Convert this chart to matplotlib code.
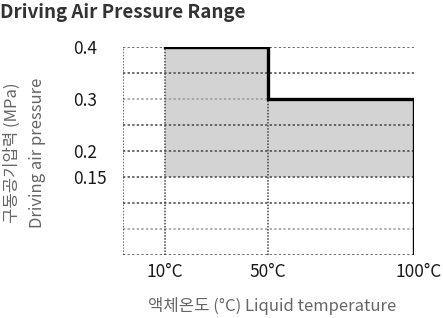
import numpy as np
import matplotlib.pyplot as plt
from matplotlib.transforms import ScaledTranslation

plt.rcParams['font.family'] = ['Noto Sans CJK KR', 'DejaVu Sans']

# temperature breakpoints and pressure limits
temps = [10, 50, 100]
p_upper = [0.4, 0.3]
p_lower = 0.15
yticks = [0.4, 0.3, 0.2, 0.15]
ytick_labels = ['0.4', '0.3', '0.2', '0.15']
xtick_labels = ['10°C', '50°C', '100°C']
grid_y = [0.05, 0.1, 0.15, 0.2, 0.25, 0.3, 0.35, 0.4]

# uneven x spacing as in the original drawing
scale_t = [0, 10, 50, 100]
scale_pos = [0, 42, 145, 291]


def fwd(x):
    return np.interp(x, scale_t, scale_pos)


def inv(x):
    return np.interp(x, scale_pos, scale_t)


fig = plt.figure(figsize=(4.43, 3.18), dpi=100)
ax = fig.add_axes([123 / 443, 1 - 255 / 318, 291 / 443, 208 / 318])
ax.set_xscale('function', functions=(fwd, inv))
ax.set_xlim(0, 100)
ax.set_ylim(0, 0.4)

# shaded operating range
for i in range(2):
    ax.fill_between([temps[i], temps[i + 1]], p_lower, p_upper[i],
                    color='#d3d3d3', lw=0, zorder=1)

# dotted grid
for y in grid_y:
    c = '#999999' if y in (0.05, 0.3) else '#444444'
    ax.plot([0, 100], [y, y], ls=(0, (1.5, 1.5)), color=c, lw=1.1, zorder=2)
ax.plot([0, 100], [0, 0], ls=(0, (1.5, 1.5)), color='#444444', lw=1.1, zorder=2)
for x in [0, 10, 50]:
    ax.plot([x, x], [0, 0.4], ls=(0, (1, 1)), color='#444444', lw=1.1, zorder=2)

# solid outline
ax.plot([temps[0], temps[1], temps[1], temps[2], temps[2]],
        [p_upper[0], p_upper[0], p_upper[1], p_upper[1], 0],
        color='black', lw=2.4, solid_joinstyle='miter', zorder=3)

for s in ax.spines.values():
    s.set_visible(False)
ax.set_yticks(yticks)
ax.set_yticklabels(ytick_labels, ha='left', fontweight='medium')
ax.set_xticks(temps)
ax.set_xticklabels(xtick_labels, fontweight='medium')
ax.tick_params(axis='y', length=0, pad=36, labelsize=12.5, labelcolor='#1a1a1a')
ax.tick_params(axis='x', length=0, pad=6, labelsize=12.5, labelcolor='#1a1a1a')
last = ax.get_xticklabels()[-1]
last.set_transform(last.get_transform() + ScaledTranslation(5 / 100, 0, fig.dpi_scale_trans))

fig.text(0.0, 0.962, 'Driving Air Pressure Range', fontsize=13.5, fontweight='bold',
         color='#333333', va='center', ha='left')
fig.text(12 / 443, 0.52, '구동공기압력 (MPa)', rotation=90, fontsize=12,
         color='#666666', va='center', ha='center')
fig.text(38 / 443, 0.52, 'Driving air pressure', rotation=90, fontsize=12,
         color='#666666', va='center', ha='center')
fig.text(272 / 443, 1 - 306 / 318, '액체온도 (°C) Liquid temperature', fontsize=12,
         color='#666666', va='center', ha='center')

fig.savefig('out.png', dpi=100)
